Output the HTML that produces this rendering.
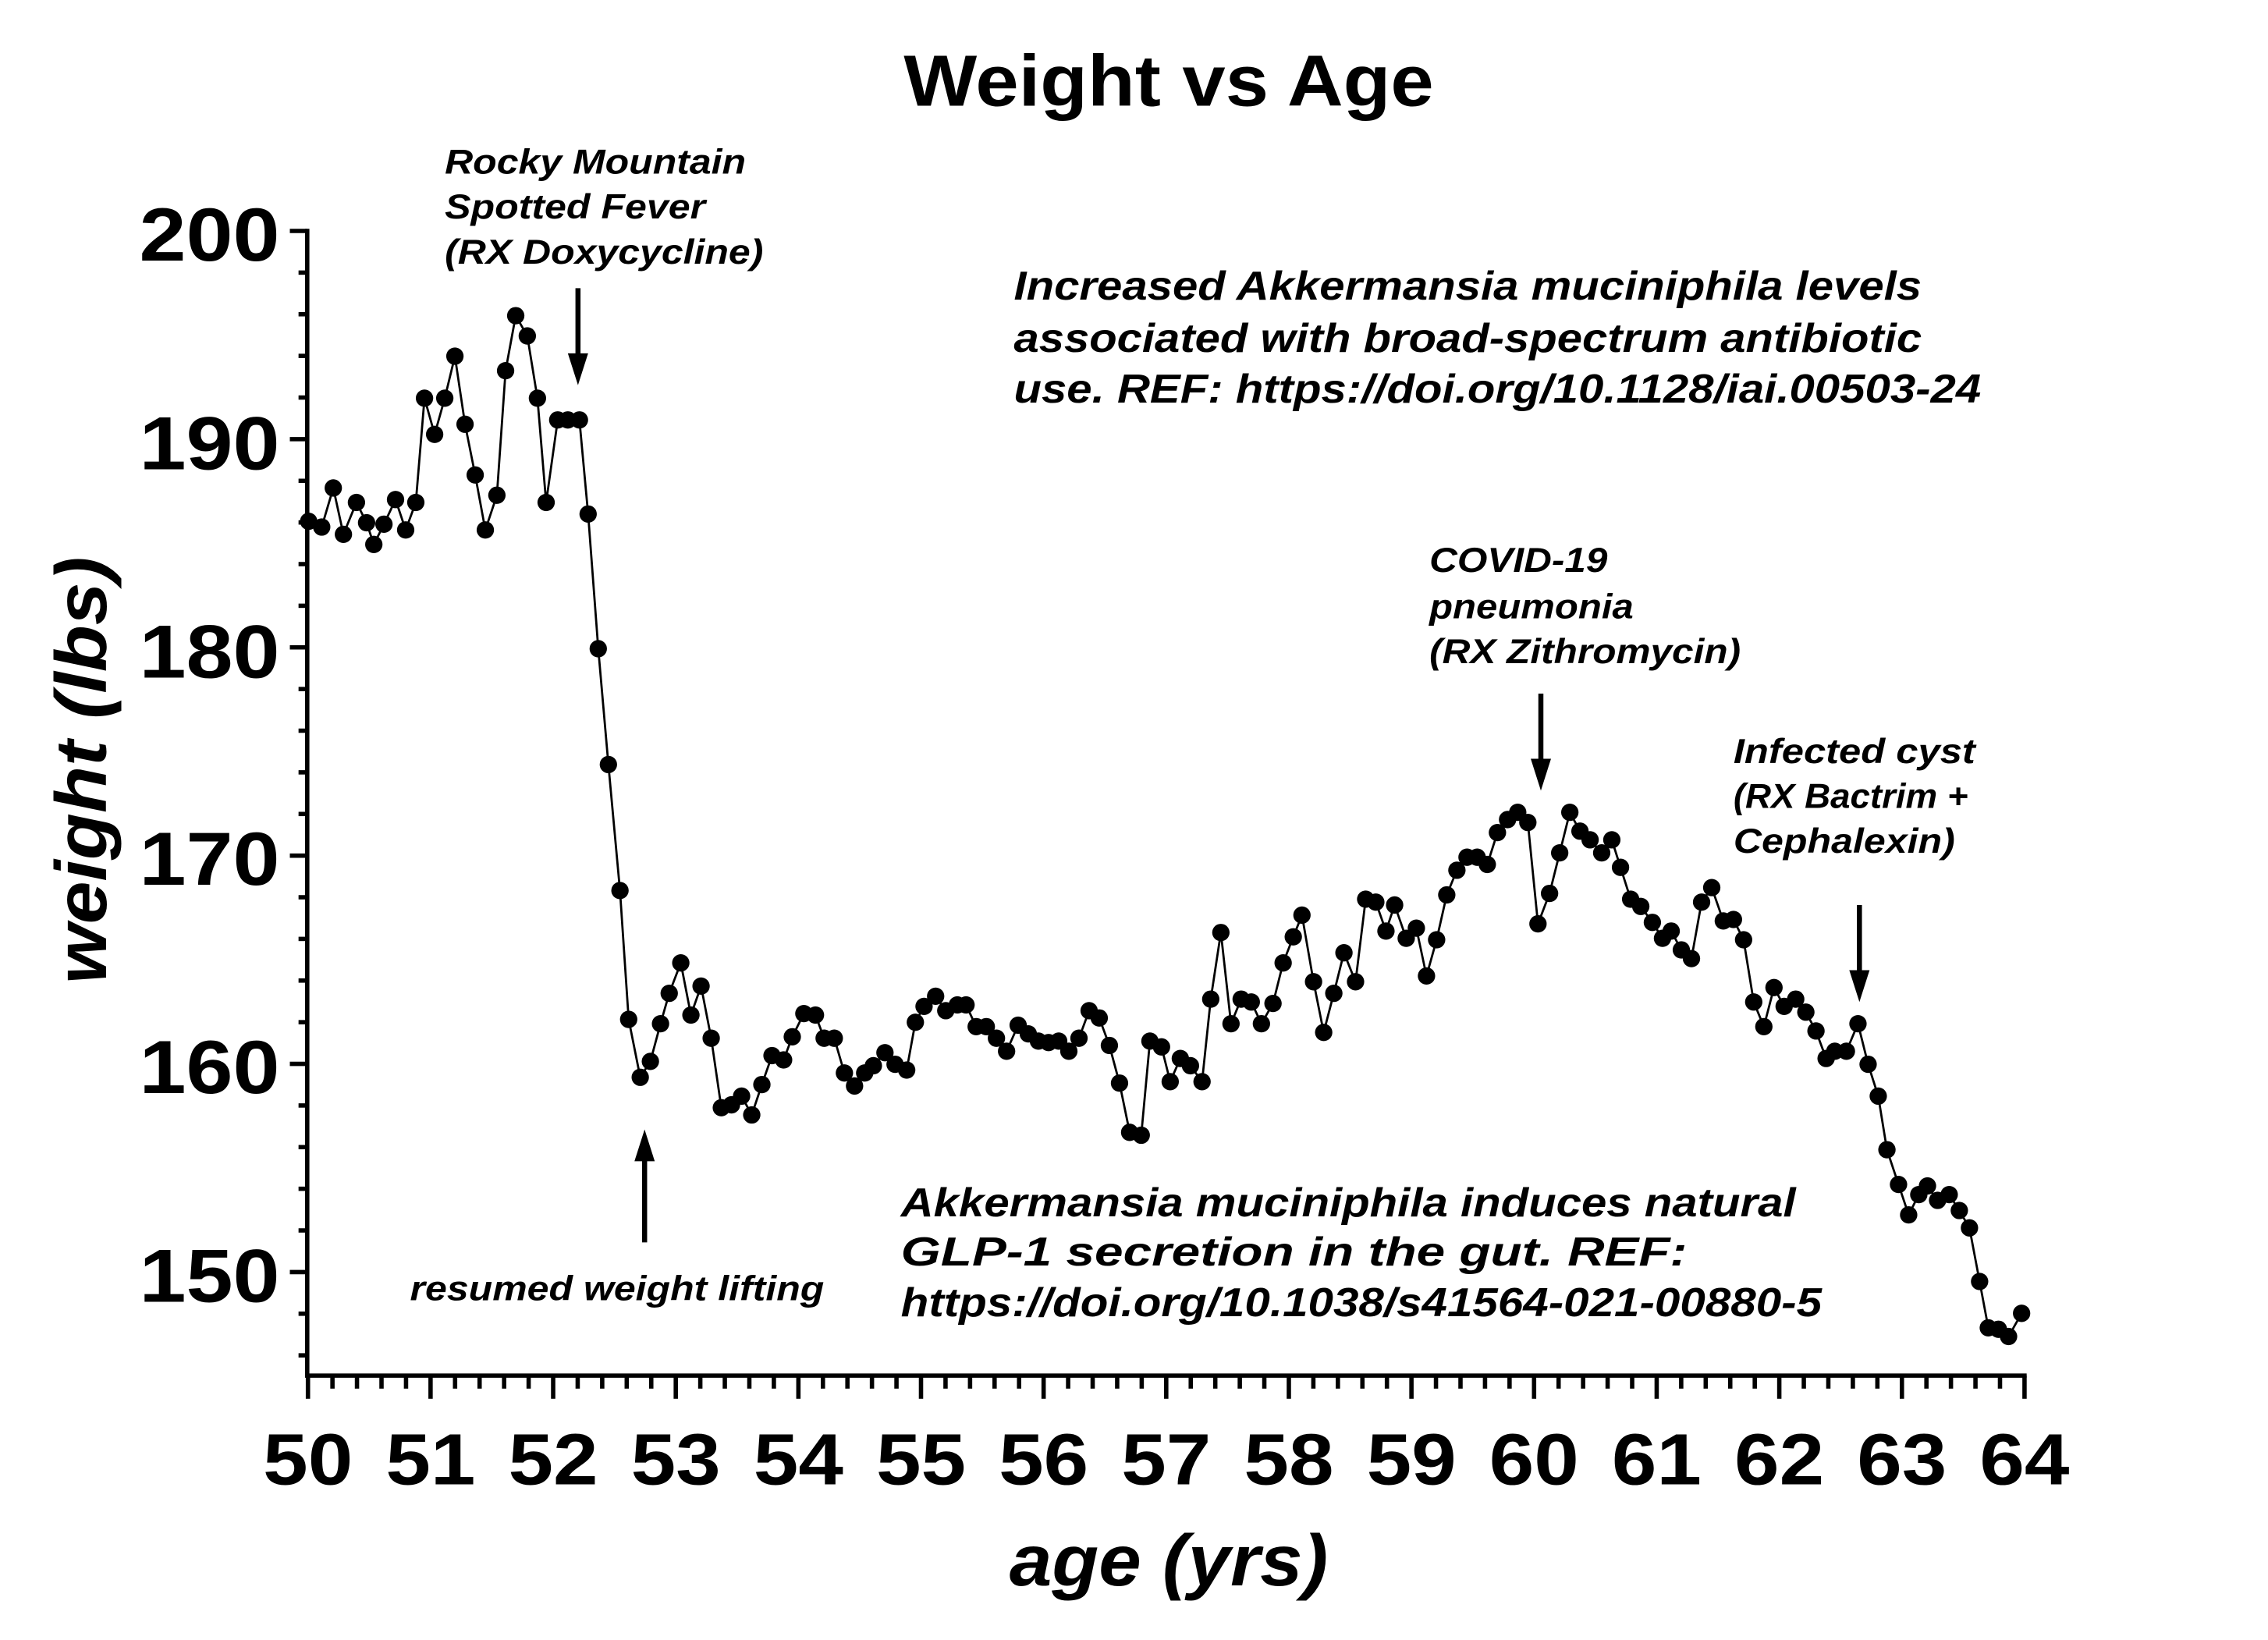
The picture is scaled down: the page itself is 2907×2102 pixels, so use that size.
<!DOCTYPE html>
<html><head><meta charset="utf-8"><style>
html,body{margin:0;padding:0;background:#fff}
svg{display:block}
text{font-family:"Liberation Sans",sans-serif;font-weight:bold;fill:#000}
.it{font-style:italic}
</style></head><body>
<svg width="2907" height="2102" viewBox="0 0 1566 1132.6" xmlns="http://www.w3.org/2000/svg">
<rect width="1566" height="1133" fill="#fff"/>
<text x="807" y="73" font-size="50" text-anchor="middle" textLength="366" lengthAdjust="spacingAndGlyphs">Weight vs Age</text>
<g stroke="#000" stroke-width="3" fill="none">
<line x1="212" y1="158" x2="212" y2="951"/>
<line x1="210.5" y1="950" x2="1399.5" y2="950"/>
</g>
<g id="yt" stroke="#000" stroke-width="3"></g>
<g id="xt" stroke="#000" stroke-width="3"></g>
<g font-size="52" text-anchor="end">
<text x="193" y="180" textLength="97" lengthAdjust="spacingAndGlyphs">200</text>
<text x="193" y="324" textLength="97" lengthAdjust="spacingAndGlyphs">190</text>
<text x="193" y="468" textLength="97" lengthAdjust="spacingAndGlyphs">180</text>
<text x="193" y="611" textLength="97" lengthAdjust="spacingAndGlyphs">170</text>
<text x="193" y="755" textLength="97" lengthAdjust="spacingAndGlyphs">160</text>
<text x="193" y="899" textLength="97" lengthAdjust="spacingAndGlyphs">150</text>
</g>
<g id="xl" font-size="50"></g>
<text x="807" y="1095" font-size="50" class="it" text-anchor="middle" textLength="220" lengthAdjust="spacingAndGlyphs">age (yrs)</text>
<text transform="translate(73,532) rotate(-90)" font-size="50" class="it" text-anchor="middle" textLength="295" lengthAdjust="spacingAndGlyphs">weight (lbs)</text>
<g class="it" font-size="28">
<text x="700" y="207" textLength="627" lengthAdjust="spacingAndGlyphs">Increased Akkermansia muciniphila levels</text>
<text x="700" y="243" textLength="627" lengthAdjust="spacingAndGlyphs">associated with broad-spectrum antibiotic</text>
<text x="700" y="278" textLength="668" lengthAdjust="spacingAndGlyphs">use. REF: https://doi.org/10.1128/iai.00503-24</text>
<text x="622" y="840" textLength="618" lengthAdjust="spacingAndGlyphs">Akkermansia muciniphila induces natural</text>
<text x="622" y="874" textLength="543" lengthAdjust="spacingAndGlyphs">GLP-1 secretion in the gut. REF:</text>
<text x="622" y="909" textLength="636" lengthAdjust="spacingAndGlyphs">https://doi.org/10.1038/s41564-021-00880-5</text>
</g>
<g class="it" font-size="24">
<text x="307" y="120" textLength="208" lengthAdjust="spacingAndGlyphs">Rocky Mountain</text>
<text x="307" y="151" textLength="180" lengthAdjust="spacingAndGlyphs">Spotted Fever</text>
<text x="307" y="182" textLength="220" lengthAdjust="spacingAndGlyphs">(RX Doxycycline)</text>
<text x="987" y="395" textLength="123" lengthAdjust="spacingAndGlyphs">COVID-19</text>
<text x="987" y="427" textLength="141" lengthAdjust="spacingAndGlyphs">pneumonia</text>
<text x="987" y="458" textLength="215" lengthAdjust="spacingAndGlyphs">(RX Zithromycin)</text>
<text x="1197" y="527" textLength="167" lengthAdjust="spacingAndGlyphs">Infected cyst</text>
<text x="1197" y="558" textLength="162" lengthAdjust="spacingAndGlyphs">(RX Bactrim +</text>
<text x="1197" y="589" textLength="153" lengthAdjust="spacingAndGlyphs">Cephalexin)</text>
<text x="283" y="898" textLength="286" lengthAdjust="spacingAndGlyphs">resumed weight lifting</text>
</g>
<g stroke="#000" stroke-width="3.5">
<line x1="399" y1="199" x2="399" y2="248"/>
<line x1="1064" y1="479" x2="1064" y2="528"/>
<line x1="1284" y1="625" x2="1284" y2="674"/>
<line x1="445" y1="858" x2="445" y2="800"/>
</g>
<g fill="#000">
<polygon points="392,244 406,244 399,266"/>
<polygon points="1057,524 1071,524 1064,546"/>
<polygon points="1277,670 1291,670 1284,692"/>
<polygon points="438,802 452,802 445,780"/>
</g>
<g id="data"></g>
</svg>
<script>
var ns="http://www.w3.org/2000/svg";
function el(p,t,a){var e=document.createElementNS(ns,t);for(var k in a)e.setAttribute(k,a[k]);p.appendChild(e);return e;}
var yt=document.getElementById("yt");
for(var v=146;v<=200;v+=2){var y=159.5+(200-v)*14.38;var maj=(v%10==0);el(yt,"line",{x1:maj?200:206,y1:y,x2:212,y2:y});}
var xt=document.getElementById("xt"),xl=document.getElementById("xl");
for(var i=0;i<=70;i++){var x=212.5+i*84.68/5;var maj=(i%5==0);el(xt,"line",{x1:x,y1:950,x2:x,y2:maj?966:959});
if(maj){var t=el(xl,"text",{x:x,y:1025,"text-anchor":"middle",textLength:62,lengthAdjust:"spacingAndGlyphs"});t.textContent=String(50+i/5);}}
var pts=[213,360,222,364,230,337,237,369,246,347,253,361,258,376,265,362,273,345,280,366,287,347,293,275,300,300,307,275,314,246,321,293,328,328,335,366,343,342,349,256,356,218,364,232,371,275,377,347,385,290,392,290,400,290,406,355,413,448,420,528,428,615,434,704,442,744,449,733,456,707,462,686,470,665,477,701,484,681,491,717,498,765,505,763,512,757,519,770,526,749,533,729,541,732,547,716,555,700,563,701,569,717,576,717,583,741,590,750,597,741,603,736,611,727,618,735,626,739,632,706,638,695,646,688,653,698,661,694,667,694,674,709,681,709,688,717,695,726,703,708,710,714,717,719,724,720,731,719,738,726,745,717,752,698,759,703,766,722,773,748,780,782,788,784,794,719,802,723,808,747,815,731,822,736,830,747,836,690,843,644,850,707,857,690,864,692,871,707,879,693,886,665,893,647,899,632,907,678,914,713,921,686,928,658,936,678,943,621,950,623,957,643,963,625,971,648,978,641,985,674,992,649,999,618,1006,601,1013,592,1020,592,1027,597,1034,575,1041,566,1048,561,1055,568,1062,638,1070,617,1077,589,1084,561,1091,574,1098,580,1106,589,1113,580,1119,599,1126,621,1133,626,1141,637,1148,648,1154,643,1161,656,1168,662,1175,623,1182,613,1190,636,1197,635,1204,649,1211,692,1218,709,1225,682,1232,695,1240,690,1247,699,1254,712,1261,731,1267,726,1275,726,1283,707,1290,735,1297,757,1303,794,1311,818,1318,839,1325,825,1331,819,1338,829,1346,825,1353,836,1360,848,1367,885,1373,917,1380,918,1387,923,1396,907];
var d=document.getElementById("data"),s="";
for(var j=0;j<pts.length;j+=2)s+=(j?"L":"M")+pts[j]+","+pts[j+1];
el(d,"path",{d:s,fill:"none",stroke:"#000","stroke-width":1.5});
for(var j=0;j<pts.length;j+=2)el(d,"circle",{cx:pts[j],cy:pts[j+1],r:6,fill:"#000"});
</script>
</body></html>
